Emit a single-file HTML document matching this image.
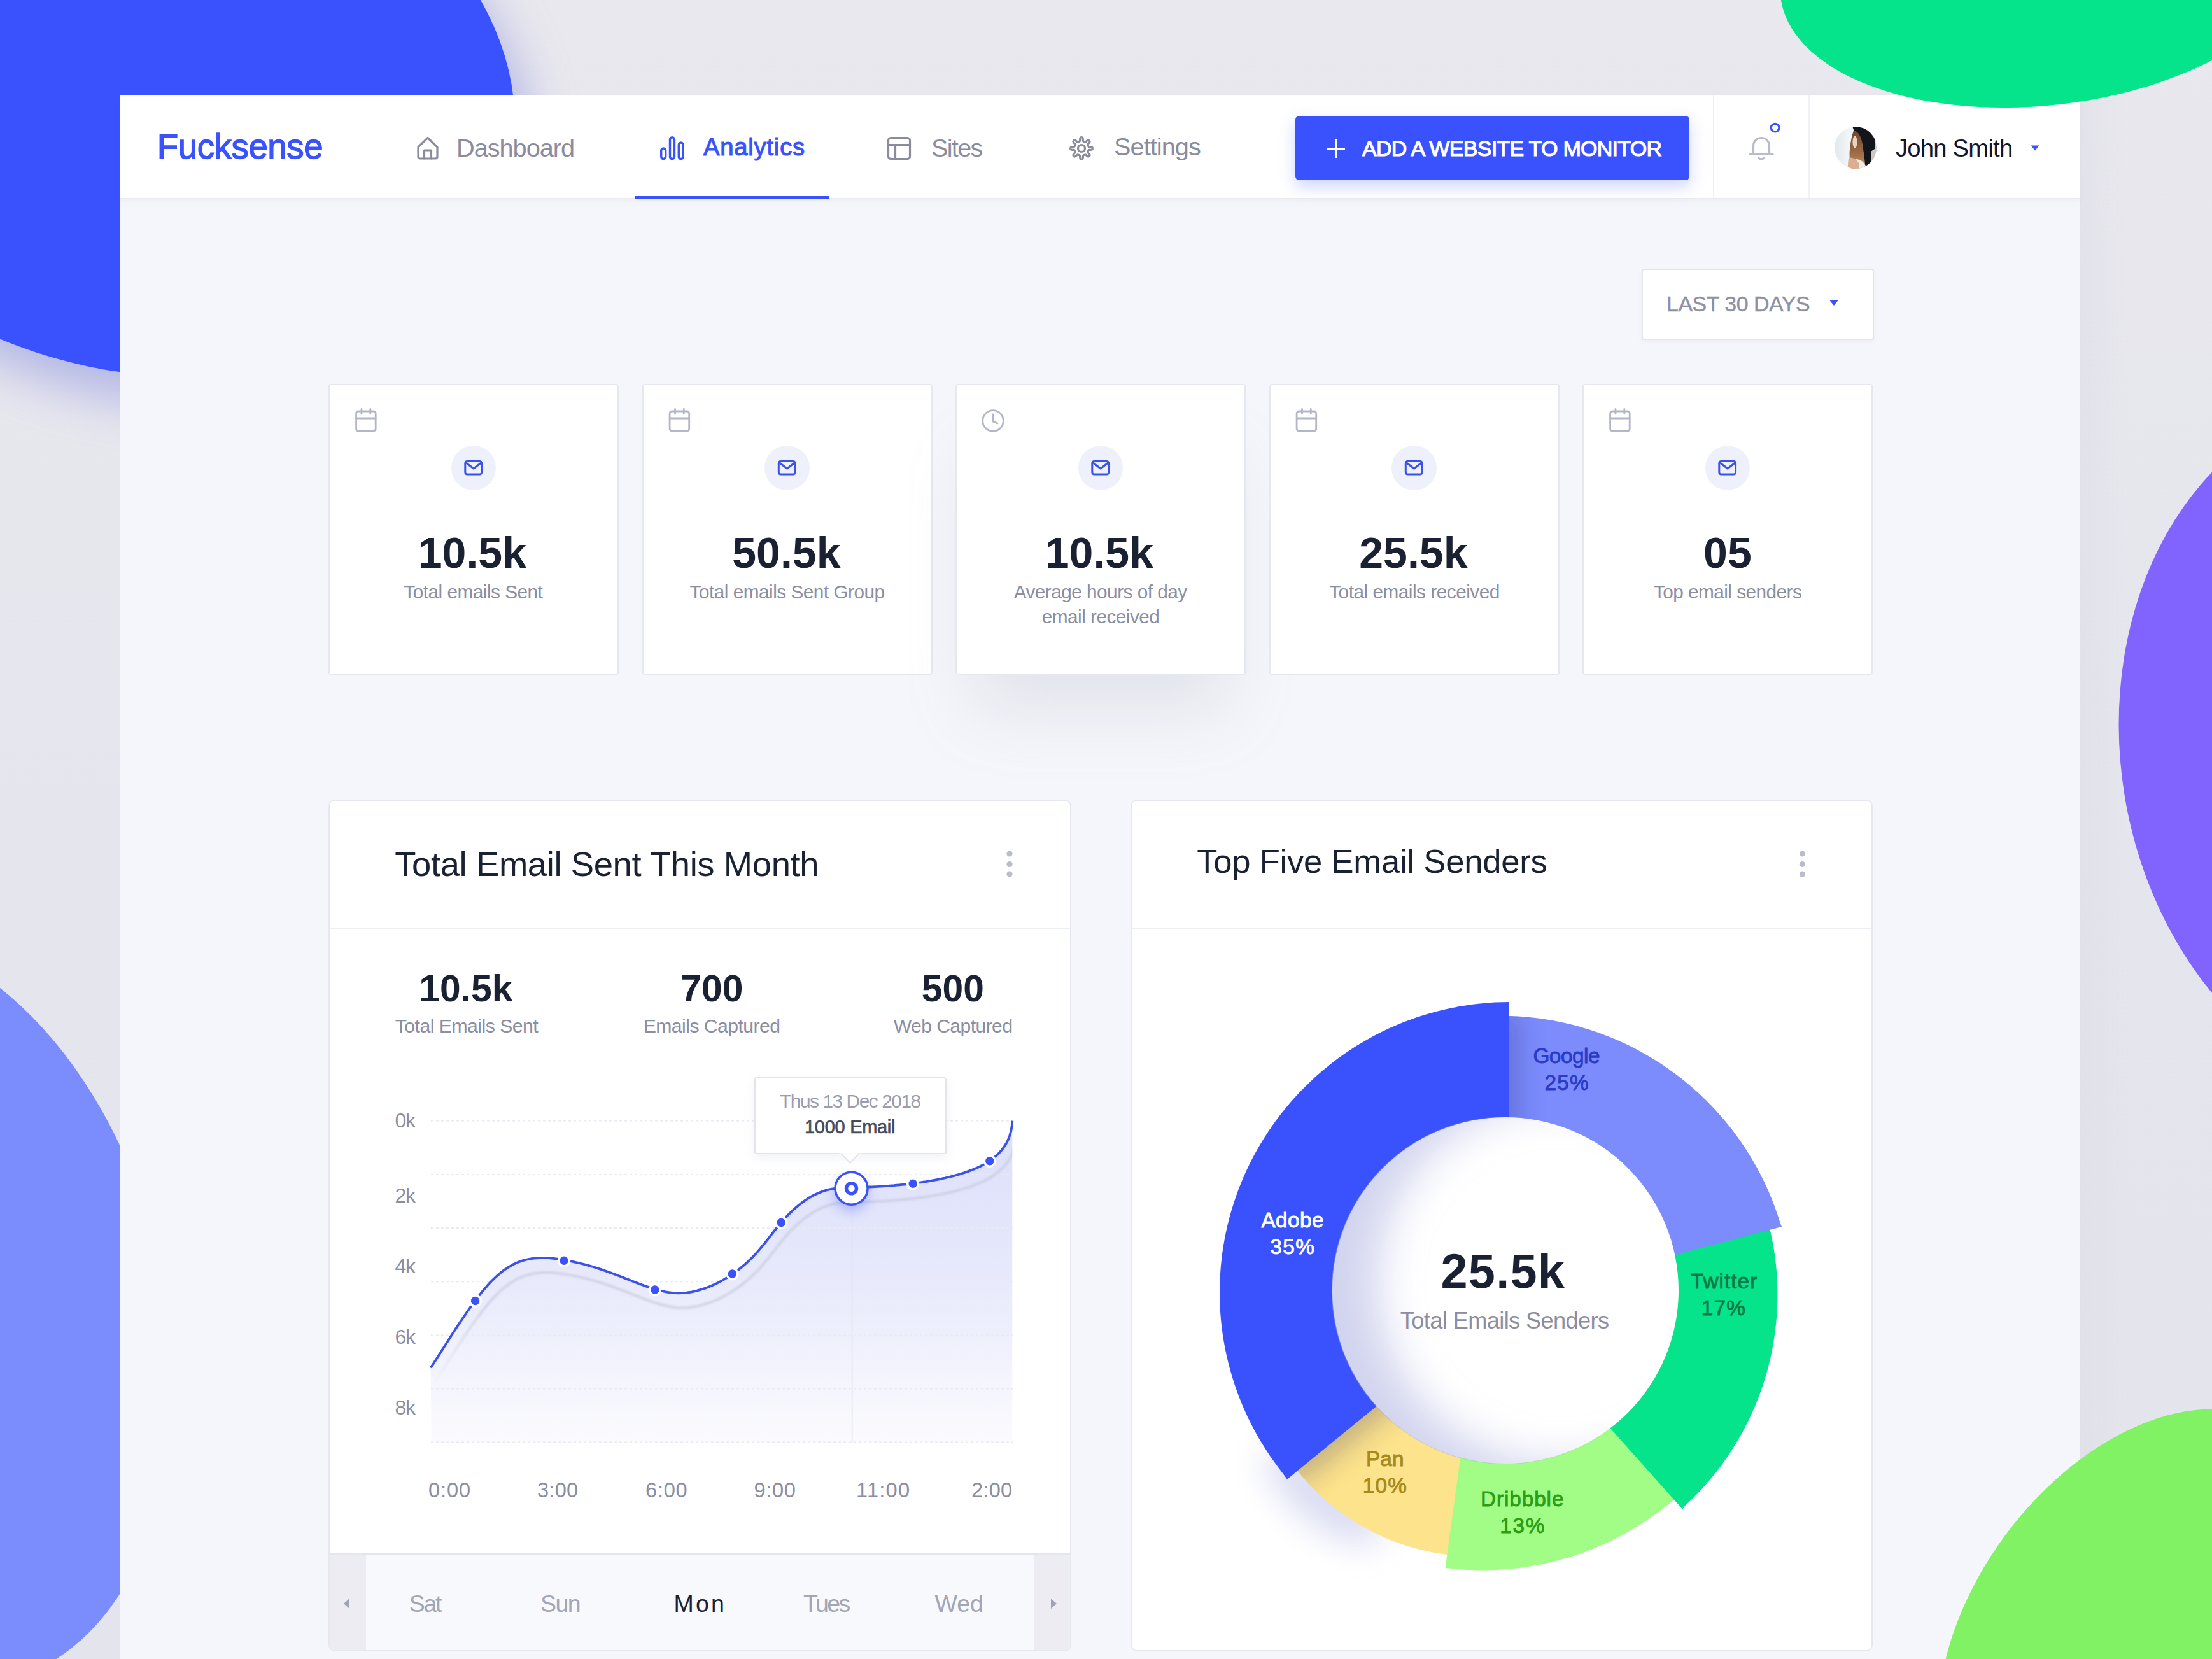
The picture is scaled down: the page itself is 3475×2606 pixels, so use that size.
<!DOCTYPE html><html><head><meta charset="utf-8"><style>
html,body{margin:0;padding:0;}
body{width:3475px;height:2606px;position:relative;overflow:hidden;background:#e8e8ee;font-family:"Liberation Sans",sans-serif;}
.a{position:absolute;}
.t{position:absolute;white-space:nowrap;font-family:"Liberation Sans",sans-serif;}
svg{position:absolute;left:0;top:0;}
</style></head><body>
<svg width="3475" height="2606" viewBox="0 0 3475 2606">
<defs>
 <linearGradient id="bgg" x1="0" y1="0" x2="0" y2="1"><stop offset="0" stop-color="#e9e8ee"/><stop offset="0.5" stop-color="#e5e5ed"/><stop offset="1" stop-color="#e4e4ec"/></linearGradient>
 <filter id="blobsh" x="-50%" y="-50%" width="200%" height="200%"><feGaussianBlur stdDeviation="38"/></filter>
</defs>
<rect width="3475" height="2606" fill="url(#bgg)"/>
<ellipse cx="254.8" cy="187.5" rx="442.6" ry="584.3" transform="rotate(-78.16 254.8 187.5)" fill="#8f96e0" opacity="0.6" filter="url(#blobsh)"/>
<ellipse cx="229.8" cy="142.5" rx="442.6" ry="584.3" transform="rotate(-78.16 229.8 142.5)" fill="#3a52fd"/>
<ellipse cx="-136.9" cy="2058" rx="600.6" ry="394.9" transform="rotate(75.92 -136.9 2058)" fill="#7b8cfd"/>
</svg>
<div class="a" style="left:3268px;top:149px;width:70px;height:2460px;background:linear-gradient(90deg,rgba(215,216,228,0.3),rgba(232,232,238,0))"></div>
<div class="a" style="left:189px;top:149px;width:3079px;height:2500px;background:#f5f6fb"></div>
<div class="a" style="left:189px;top:149px;width:3079px;height:162px;background:#fff;border-bottom:2px solid #eaecf1;box-shadow:0 4px 8px rgba(120,125,150,0.05)"></div>
<div class="a" style="left:997px;top:308px;width:305px;height:5px;background:#3a52fd"></div>
<div class="a" style="left:2691px;top:149px;width:2px;height:162px;background:#f0f1f5"></div>
<div class="a" style="left:2841px;top:149px;width:2px;height:162px;background:#f0f1f5"></div>
<svg width="3475" height="2606" viewBox="0 0 3475 2606" style="pointer-events:none">
<g fill="none" stroke="#8a8c9e" stroke-width="3.2" stroke-linejoin="round" stroke-linecap="round">
 <path d="M657,231 L672,216.5 L687,231 L687,246 Q687,249 684,249 L660,249 Q657,249 657,246 Z"/>
 <path d="M666.5,249 L666.5,236 L677.5,236 L677.5,249"/>
 <rect x="1395.5" y="216.5" width="34" height="33" rx="4"/>
 <path d="M1395.5,227.5 L1429.5,227.5 M1406.5,227.5 L1406.5,249.5"/>
</g>
<g fill="none" stroke="#3a52fd" stroke-width="3.4">
 <rect x="1038.7" y="233" width="7" height="16.5" rx="3.5"/>
 <rect x="1052.5" y="215.7" width="7" height="33.8" rx="3.5"/>
 <rect x="1066.3" y="224" width="7" height="25.5" rx="3.5"/>
</g>
</svg>
<svg width="3475" height="2606" viewBox="0 0 3475 2606">
<g fill="none" stroke="#8a8c9e" stroke-width="3.2" stroke-linejoin="round">
<path d="M1699.00,215.70 L1699.45,215.72 L1699.90,215.79 L1700.34,215.95 L1700.76,216.30 L1701.10,217.05 L1701.31,218.40 L1701.40,220.04 L1701.50,221.22 L1701.69,221.80 L1701.93,222.07 L1702.19,222.22 L1702.47,222.33 L1702.74,222.44 L1703.01,222.54 L1703.29,222.65 L1703.56,222.77 L1703.82,222.89 L1704.09,223.01 L1704.36,223.12 L1704.66,223.20 L1705.02,223.18 L1705.56,222.90 L1706.47,222.14 L1707.69,221.04 L1708.79,220.24 L1709.57,219.95 L1710.11,220.00 L1710.53,220.19 L1710.90,220.46 L1711.23,220.77 L1711.54,221.10 L1711.81,221.47 L1712.00,221.89 L1712.05,222.43 L1711.76,223.21 L1710.96,224.31 L1709.86,225.53 L1709.10,226.44 L1708.82,226.98 L1708.80,227.34 L1708.88,227.64 L1708.99,227.91 L1709.11,228.18 L1709.23,228.44 L1709.35,228.71 L1709.46,228.99 L1709.56,229.26 L1709.67,229.53 L1709.78,229.81 L1709.93,230.07 L1710.20,230.31 L1710.78,230.50 L1711.96,230.60 L1713.60,230.69 L1714.95,230.90 L1715.70,231.24 L1716.05,231.66 L1716.21,232.10 L1716.28,232.55 L1716.30,233.00 L1716.28,233.45 L1716.21,233.90 L1716.05,234.34 L1715.70,234.76 L1714.95,235.10 L1713.60,235.31 L1711.96,235.40 L1710.78,235.50 L1710.20,235.69 L1709.93,235.93 L1709.78,236.19 L1709.67,236.47 L1709.56,236.74 L1709.46,237.01 L1709.35,237.29 L1709.23,237.56 L1709.11,237.82 L1708.99,238.09 L1708.88,238.36 L1708.80,238.66 L1708.82,239.02 L1709.10,239.56 L1709.86,240.47 L1710.96,241.69 L1711.76,242.79 L1712.05,243.57 L1712.00,244.11 L1711.81,244.53 L1711.54,244.90 L1711.23,245.23 L1710.90,245.54 L1710.53,245.81 L1710.11,246.00 L1709.57,246.05 L1708.79,245.76 L1707.69,244.96 L1706.47,243.86 L1705.56,243.10 L1705.02,242.82 L1704.66,242.80 L1704.36,242.88 L1704.09,242.99 L1703.82,243.11 L1703.56,243.23 L1703.29,243.35 L1703.01,243.46 L1702.74,243.56 L1702.47,243.67 L1702.19,243.78 L1701.93,243.93 L1701.69,244.20 L1701.50,244.78 L1701.40,245.96 L1701.31,247.60 L1701.10,248.95 L1700.76,249.70 L1700.34,250.05 L1699.90,250.21 L1699.45,250.28 L1699.00,250.30 L1698.55,250.28 L1698.10,250.21 L1697.66,250.05 L1697.24,249.70 L1696.90,248.95 L1696.69,247.60 L1696.60,245.96 L1696.50,244.78 L1696.31,244.20 L1696.07,243.93 L1695.81,243.78 L1695.53,243.67 L1695.26,243.56 L1694.99,243.46 L1694.71,243.35 L1694.44,243.23 L1694.18,243.11 L1693.91,242.99 L1693.64,242.88 L1693.34,242.80 L1692.98,242.82 L1692.44,243.10 L1691.53,243.86 L1690.31,244.96 L1689.21,245.76 L1688.43,246.05 L1687.89,246.00 L1687.47,245.81 L1687.10,245.54 L1686.77,245.23 L1686.46,244.90 L1686.19,244.53 L1686.00,244.11 L1685.95,243.57 L1686.24,242.79 L1687.04,241.69 L1688.14,240.47 L1688.90,239.56 L1689.18,239.02 L1689.20,238.66 L1689.12,238.36 L1689.01,238.09 L1688.89,237.82 L1688.77,237.56 L1688.65,237.29 L1688.54,237.01 L1688.44,236.74 L1688.33,236.47 L1688.22,236.19 L1688.07,235.93 L1687.80,235.69 L1687.22,235.50 L1686.04,235.40 L1684.40,235.31 L1683.05,235.10 L1682.30,234.76 L1681.95,234.34 L1681.79,233.90 L1681.72,233.45 L1681.70,233.00 L1681.72,232.55 L1681.79,232.10 L1681.95,231.66 L1682.30,231.24 L1683.05,230.90 L1684.40,230.69 L1686.04,230.60 L1687.22,230.50 L1687.80,230.31 L1688.07,230.07 L1688.22,229.81 L1688.33,229.53 L1688.44,229.26 L1688.54,228.99 L1688.65,228.71 L1688.77,228.44 L1688.89,228.18 L1689.01,227.91 L1689.12,227.64 L1689.20,227.34 L1689.18,226.98 L1688.90,226.44 L1688.14,225.53 L1687.04,224.31 L1686.24,223.21 L1685.95,222.43 L1686.00,221.89 L1686.19,221.47 L1686.46,221.10 L1686.77,220.77 L1687.10,220.46 L1687.47,220.19 L1687.89,220.00 L1688.43,219.95 L1689.21,220.24 L1690.31,221.04 L1691.53,222.14 L1692.44,222.90 L1692.98,223.18 L1693.34,223.20 L1693.64,223.12 L1693.91,223.01 L1694.18,222.89 L1694.44,222.77 L1694.71,222.65 L1694.99,222.54 L1695.26,222.44 L1695.53,222.33 L1695.81,222.22 L1696.07,222.07 L1696.31,221.80 L1696.50,221.22 L1696.60,220.04 L1696.69,218.40 L1696.90,217.05 L1697.24,216.30 L1697.66,215.95 L1698.10,215.79 L1698.55,215.72Z"/>
<circle cx="1699" cy="233" r="5.5"/>
</g></svg>
<div class="a" style="left:2035px;top:182px;width:619px;height:101px;background:#3a52fd;border-radius:6px;box-shadow:0 10px 24px rgba(58,82,253,0.25)"></div>
<div class="a" style="left:2084px;top:231.5px;width:29px;height:3px;background:#fff"></div>
<div class="a" style="left:2097px;top:218.5px;width:3px;height:29px;background:#fff"></div>
<svg width="3475" height="2606" viewBox="0 0 3475 2606">
<g fill="none" stroke="#b8bbca" stroke-width="3.2" stroke-linecap="round" stroke-linejoin="round">
<path d="M2754.5,241 L2754.5,229 A12.5,12.5 0 0 1 2779.5,229 L2779.5,241"/>
<path d="M2749,242.5 L2785,242.5"/>
<path d="M2762.5,248 Q2767,252 2771.5,248"/>
</g>
<circle cx="2788.6" cy="200.6" r="6.3" fill="none" stroke="#3a52fd" stroke-width="3.2"/>
</svg>
<svg width="3475" height="2606" viewBox="0 0 3475 2606">
<defs><clipPath id="avc"><circle cx="2915" cy="232" r="33"/></clipPath>
<linearGradient id="avbg" x1="0" y1="0" x2="1" y2="0"><stop offset="0" stop-color="#dfe6ea"/><stop offset="0.35" stop-color="#f3f6f8"/><stop offset="0.7" stop-color="#eceeee"/><stop offset="1" stop-color="#c9cccc"/></linearGradient>
<linearGradient id="hair" x1="0" y1="0" x2="0" y2="1"><stop offset="0" stop-color="#6b4630"/><stop offset="0.6" stop-color="#a4704a"/><stop offset="1" stop-color="#d2a173"/></linearGradient></defs>
<g clip-path="url(#avc)">
<rect x="2880" y="197" width="70" height="70" fill="url(#avbg)"/>
<path d="M2932,238 L2950,236 L2950,270 L2930,270 Z" fill="#cfc8c2"/>
<path d="M2910,198 Q2936,193 2947,213 L2945,234 L2939,238 Q2941,252 2937,264 L2930,268 Q2928,242 2925,224 Q2920,210 2913,207 Z" fill="#12161b"/>
<path d="M2912,205 Q2921,206 2925,222 Q2929,244 2931,268 L2910,270 Q2904,252 2906,234 Q2908,216 2912,205Z" fill="url(#hair)"/>
<ellipse cx="2914" cy="223" rx="3.6" ry="9.5" fill="#ecd0bb"/>
<path d="M2916,250 Q2926,250 2932,262 L2930,270 L2914,270 Z" fill="#eeeae6"/>
<path d="M2904,248 Q2914,246 2920,256 Q2922,264 2918,270 L2902,270 Z" fill="#d9ae92"/>
</g></svg>
<svg width="3475" height="2606" viewBox="0 0 3475 2606"><path d="M3190.5,228.5 L3203.5,228.5 L3197,236.5 Z" fill="#3a52fd"/></svg>
<div class="a" style="left:2579px;top:421.5px;background:#fff;border:2px solid #e3e5ee;border-radius:4px;box-sizing:border-box;width:364.5px;height:112px;box-shadow:0 3px 6px rgba(140,145,170,0.08)"></div>
<svg width="3475" height="2606" viewBox="0 0 3475 2606"><path d="M2874.5,472 L2887.5,472 L2881,480 Z" fill="#3a52fd"/></svg>
<div class="a" style="left:516px;top:603px;width:456px;height:457px;background:#fff;border:2px solid #e6e8f0;border-radius:4px;box-sizing:border-box;"></div>
<div class="a" style="left:1008.5px;top:603px;width:456px;height:457px;background:#fff;border:2px solid #e6e8f0;border-radius:4px;box-sizing:border-box;"></div>
<div class="a" style="left:1501px;top:603px;width:456px;height:457px;background:#fff;border:2px solid #e6e8f0;border-radius:4px;box-sizing:border-box;box-shadow:0 85px 100px -30px rgba(160,162,180,0.22);"></div>
<div class="a" style="left:1993.5px;top:603px;width:456px;height:457px;background:#fff;border:2px solid #e6e8f0;border-radius:4px;box-sizing:border-box;"></div>
<div class="a" style="left:2486px;top:603px;width:456px;height:457px;background:#fff;border:2px solid #e6e8f0;border-radius:4px;box-sizing:border-box;"></div>
<div class="a" style="left:708.7px;top:699.7px;width:70.6px;height:70.6px;border-radius:50%;background:#eef1fc"></div>
<div class="a" style="left:1201.2px;top:699.7px;width:70.6px;height:70.6px;border-radius:50%;background:#eef1fc"></div>
<div class="a" style="left:1693.7px;top:699.7px;width:70.6px;height:70.6px;border-radius:50%;background:#eef1fc"></div>
<div class="a" style="left:2186.2px;top:699.7px;width:70.6px;height:70.6px;border-radius:50%;background:#eef1fc"></div>
<div class="a" style="left:2678.7px;top:699.7px;width:70.6px;height:70.6px;border-radius:50%;background:#eef1fc"></div>
<svg width="3475" height="2606" viewBox="0 0 3475 2606">
<g fill="none" stroke="#3a52e8" stroke-width="3" stroke-linejoin="round"><rect x="730.8" y="724.5" width="25.8" height="20.5" rx="3"/><path d="M731,726 L744,736 L757,726"/></g>
<g fill="none" stroke="#b3b6c6" stroke-width="2.8" stroke-linecap="round"><rect x="559.6" y="646" width="30.6" height="31" rx="3.5"/><path d="M559.6,657 L590.2,657 M568,642.5 L568,650 M581.8,642.5 L581.8,650"/></g>
<g fill="none" stroke="#3a52e8" stroke-width="3" stroke-linejoin="round"><rect x="1223.3" y="724.5" width="25.8" height="20.5" rx="3"/><path d="M1223.5,726 L1236.5,736 L1249.5,726"/></g>
<g fill="none" stroke="#b3b6c6" stroke-width="2.8" stroke-linecap="round"><rect x="1052.1" y="646" width="30.6" height="31" rx="3.5"/><path d="M1052.1,657 L1082.7,657 M1060.5,642.5 L1060.5,650 M1074.3,642.5 L1074.3,650"/></g>
<g fill="none" stroke="#3a52e8" stroke-width="3" stroke-linejoin="round"><rect x="1715.8" y="724.5" width="25.8" height="20.5" rx="3"/><path d="M1716,726 L1729,736 L1742,726"/></g>
<g fill="none" stroke="#b3b6c6" stroke-width="2.8" stroke-linecap="round"><circle cx="1560" cy="661" r="16.3"/><path d="M1560,651 L1560,662 L1567,665"/></g>
<g fill="none" stroke="#3a52e8" stroke-width="3" stroke-linejoin="round"><rect x="2208.3" y="724.5" width="25.8" height="20.5" rx="3"/><path d="M2208.5,726 L2221.5,736 L2234.5,726"/></g>
<g fill="none" stroke="#b3b6c6" stroke-width="2.8" stroke-linecap="round"><rect x="2037.1" y="646" width="30.6" height="31" rx="3.5"/><path d="M2037.1,657 L2067.7,657 M2045.5,642.5 L2045.5,650 M2059.3,642.5 L2059.3,650"/></g>
<g fill="none" stroke="#3a52e8" stroke-width="3" stroke-linejoin="round"><rect x="2700.8" y="724.5" width="25.8" height="20.5" rx="3"/><path d="M2701,726 L2714,736 L2727,726"/></g>
<g fill="none" stroke="#b3b6c6" stroke-width="2.8" stroke-linecap="round"><rect x="2529.6" y="646" width="30.6" height="31" rx="3.5"/><path d="M2529.6,657 L2560.2,657 M2538,642.5 L2538,650 M2551.8,642.5 L2551.8,650"/></g>
</svg>
<div class="a" style="left:516px;top:1256px;width:1167px;height:1338px;background:#fff;border:2px solid #e6e8f0;border-radius:10px;box-sizing:border-box;overflow:hidden"><div class="a" style="left:0;top:200px;width:100%;height:2px;background:#eceef3"></div><div class="a" style="left:0;top:1182px;width:100%;height:160px;background:#f8f9fd;border-top:2px solid #e4e6ef"></div><div class="a" style="left:0;top:1184px;width:57px;height:160px;background:#ececf2"></div><div class="a" style="left:1107px;top:1184px;width:60px;height:160px;background:#ececf2"></div></div>
<svg width="3475" height="2606" viewBox="0 0 3475 2606"><g fill="#b9bcc9"><circle cx="1586" cy="1341" r="4.6"/><circle cx="1586" cy="1357.5" r="4.6"/><circle cx="1586" cy="1373" r="4.6"/></g><path d="M549,2511 L549,2527 L540,2519 Z" fill="#a0a3b3"/><path d="M1651,2511 L1651,2527 L1660,2519 Z" fill="#a0a3b3"/></svg>
<svg width="3475" height="2606" viewBox="0 0 3475 2606">
<defs>
<linearGradient id="areag" x1="0" y1="1760" x2="0" y2="2266" gradientUnits="userSpaceOnUse"><stop offset="0" stop-color="#dcdffb"/><stop offset="0.45" stop-color="#e6e8fb"/><stop offset="1" stop-color="#fbfbfe"/></linearGradient>
<filter id="lsh" x="-10%" y="-10%" width="120%" height="130%"><feGaussianBlur stdDeviation="1.8"/></filter>
<filter id="dsh" x="-100%" y="-100%" width="300%" height="300%"><feGaussianBlur stdDeviation="10"/></filter>
<clipPath id="areaclip"><path d="M676.7,2148.5 L679.1,2144.8 L681.5,2141.2 L683.8,2137.6 L686.1,2134.0 L688.5,2130.3 L690.8,2126.7 L693.1,2123.1 L695.3,2119.5 L697.6,2115.9 L699.9,2112.3 L702.2,2108.8 L704.5,2105.2 L706.8,2101.6 L709.0,2098.1 L711.3,2094.5 L713.6,2090.9 L715.9,2087.4 L718.3,2083.8 L720.6,2080.3 L722.9,2076.8 L725.3,2073.3 L727.7,2069.7 L730.1,2066.2 L732.5,2062.7 L734.9,2059.2 L737.4,2055.7 L739.9,2052.2 L742.4,2048.7 L745.0,2045.2 L747.6,2041.8 L750.2,2038.3 L752.9,2034.8 L755.6,2031.4 L758.3,2028.0 L761.1,2024.7 L764.0,2021.4 L766.9,2018.1 L769.8,2014.9 L772.8,2011.8 L775.8,2008.8 L779.0,2005.8 L782.1,2003.0 L785.4,2000.2 L788.7,1997.6 L792.0,1995.1 L795.5,1992.7 L799.0,1990.4 L802.6,1988.3 L806.2,1986.3 L810.0,1984.5 L813.8,1982.8 L817.7,1981.4 L821.7,1980.1 L825.8,1979.0 L830.0,1978.0 L834.2,1977.3 L838.5,1976.7 L842.8,1976.3 L847.2,1976.0 L851.6,1975.9 L856.0,1976.0 L860.3,1976.1 L864.7,1976.4 L869.1,1976.8 L873.4,1977.3 L877.7,1977.9 L881.9,1978.6 L886.2,1979.3 L890.4,1980.1 L894.6,1980.9 L898.8,1981.7 L902.9,1982.6 L907.1,1983.5 L911.2,1984.5 L915.4,1985.5 L919.5,1986.6 L923.5,1987.7 L927.6,1988.9 L931.7,1990.0 L935.7,1991.3 L939.8,1992.6 L943.8,1993.9 L947.8,1995.3 L951.8,1996.7 L955.8,1998.1 L959.8,1999.6 L963.8,2001.0 L967.8,2002.5 L971.8,2004.1 L975.7,2005.6 L979.7,2007.1 L983.7,2008.7 L987.7,2010.3 L991.7,2011.8 L995.8,2013.4 L999.8,2014.9 L1003.8,2016.5 L1007.9,2018.0 L1011.9,2019.5 L1016.0,2021.0 L1020.1,2022.4 L1024.2,2023.7 L1028.3,2025.0 L1032.4,2026.2 L1036.6,2027.2 L1040.7,2028.2 L1044.9,2029.1 L1049.0,2029.8 L1053.2,2030.4 L1057.4,2030.9 L1061.6,2031.2 L1065.8,2031.3 L1070.1,2031.2 L1074.3,2031.0 L1078.6,2030.6 L1082.8,2030.0 L1087.0,2029.3 L1091.2,2028.4 L1095.4,2027.4 L1099.6,2026.2 L1103.7,2025.0 L1107.9,2023.6 L1111.9,2022.1 L1115.9,2020.5 L1119.9,2018.8 L1123.8,2017.0 L1127.7,2015.1 L1131.5,2013.1 L1135.3,2011.1 L1139.0,2008.9 L1142.7,2006.7 L1146.3,2004.4 L1149.9,2002.0 L1153.4,1999.5 L1156.9,1997.0 L1160.3,1994.4 L1163.6,1991.7 L1166.9,1989.0 L1170.2,1986.2 L1173.4,1983.3 L1176.5,1980.4 L1179.6,1977.4 L1182.6,1974.4 L1185.6,1971.3 L1188.5,1968.2 L1191.3,1965.0 L1194.1,1961.8 L1196.8,1958.5 L1199.5,1955.2 L1202.2,1951.9 L1204.8,1948.6 L1207.4,1945.3 L1210.0,1941.9 L1212.6,1938.6 L1215.2,1935.2 L1217.9,1931.8 L1220.5,1928.5 L1223.3,1925.2 L1226.0,1921.9 L1228.8,1918.6 L1231.7,1915.4 L1234.6,1912.2 L1237.6,1909.0 L1240.7,1905.9 L1243.8,1902.9 L1247.0,1899.9 L1250.2,1897.0 L1253.5,1894.2 L1256.9,1891.5 L1260.3,1888.9 L1263.8,1886.4 L1267.3,1884.0 L1270.9,1881.7 L1274.6,1879.5 L1278.3,1877.5 L1282.0,1875.7 L1285.9,1873.9 L1289.8,1872.4 L1293.7,1871.0 L1297.7,1869.7 L1301.8,1868.7 L1305.9,1867.8 L1310.1,1867.1 L1314.3,1866.6 L1318.5,1866.2 L1322.8,1865.9 L1327.1,1865.7 L1331.5,1865.6 L1335.8,1865.5 L1340.1,1865.4 L1344.4,1865.3 L1348.7,1865.2 L1353.0,1865.0 L1357.3,1864.9 L1361.6,1864.7 L1365.9,1864.5 L1370.2,1864.3 L1374.5,1864.1 L1378.8,1863.9 L1383.0,1863.6 L1387.3,1863.4 L1391.6,1863.1 L1395.8,1862.8 L1400.1,1862.4 L1404.4,1862.1 L1408.6,1861.7 L1412.9,1861.3 L1417.1,1860.9 L1421.3,1860.5 L1425.5,1860.0 L1429.7,1859.5 L1434.0,1859.0 L1438.2,1858.5 L1442.3,1857.9 L1446.5,1857.3 L1450.7,1856.7 L1454.9,1856.1 L1459.1,1855.4 L1463.2,1854.7 L1467.4,1853.9 L1471.6,1853.1 L1475.8,1852.3 L1480.0,1851.4 L1484.2,1850.5 L1488.4,1849.5 L1492.6,1848.5 L1496.9,1847.4 L1501.1,1846.3 L1505.4,1845.1 L1509.6,1843.8 L1513.8,1842.5 L1518.0,1841.1 L1522.1,1839.6 L1526.2,1838.1 L1530.3,1836.4 L1534.3,1834.7 L1538.2,1832.9 L1542.1,1831.0 L1545.8,1828.9 L1549.5,1826.8 L1553.1,1824.6 L1556.5,1822.2 L1559.9,1819.7 L1563.1,1817.1 L1566.2,1814.4 L1569.1,1811.6 L1571.9,1808.6 L1574.5,1805.4 L1576.9,1802.2 L1579.2,1798.8 L1581.3,1795.2 L1583.2,1791.5 L1584.9,1787.6 L1586.3,1783.5 L1587.6,1779.3 L1588.6,1774.9 L1589.4,1770.4 L1590.0,1765.6 L1590.3,1760.7 L1590.2,2266 L677.6,2266 Z"/></clipPath>
<linearGradient id="shm" x1="680" y1="0" x2="760" y2="0" gradientUnits="userSpaceOnUse"><stop offset="0" stop-color="#000"/><stop offset="1" stop-color="#fff"/></linearGradient>
<mask id="shmask" maskUnits="userSpaceOnUse" x="600" y="1700" width="1100" height="600"><rect x="600" y="1700" width="1100" height="600" fill="url(#shm)"/></mask>
</defs>
<path d="M676.7,2148.5 L679.1,2144.8 L681.5,2141.2 L683.8,2137.6 L686.1,2134.0 L688.5,2130.3 L690.8,2126.7 L693.1,2123.1 L695.3,2119.5 L697.6,2115.9 L699.9,2112.3 L702.2,2108.8 L704.5,2105.2 L706.8,2101.6 L709.0,2098.1 L711.3,2094.5 L713.6,2090.9 L715.9,2087.4 L718.3,2083.8 L720.6,2080.3 L722.9,2076.8 L725.3,2073.3 L727.7,2069.7 L730.1,2066.2 L732.5,2062.7 L734.9,2059.2 L737.4,2055.7 L739.9,2052.2 L742.4,2048.7 L745.0,2045.2 L747.6,2041.8 L750.2,2038.3 L752.9,2034.8 L755.6,2031.4 L758.3,2028.0 L761.1,2024.7 L764.0,2021.4 L766.9,2018.1 L769.8,2014.9 L772.8,2011.8 L775.8,2008.8 L779.0,2005.8 L782.1,2003.0 L785.4,2000.2 L788.7,1997.6 L792.0,1995.1 L795.5,1992.7 L799.0,1990.4 L802.6,1988.3 L806.2,1986.3 L810.0,1984.5 L813.8,1982.8 L817.7,1981.4 L821.7,1980.1 L825.8,1979.0 L830.0,1978.0 L834.2,1977.3 L838.5,1976.7 L842.8,1976.3 L847.2,1976.0 L851.6,1975.9 L856.0,1976.0 L860.3,1976.1 L864.7,1976.4 L869.1,1976.8 L873.4,1977.3 L877.7,1977.9 L881.9,1978.6 L886.2,1979.3 L890.4,1980.1 L894.6,1980.9 L898.8,1981.7 L902.9,1982.6 L907.1,1983.5 L911.2,1984.5 L915.4,1985.5 L919.5,1986.6 L923.5,1987.7 L927.6,1988.9 L931.7,1990.0 L935.7,1991.3 L939.8,1992.6 L943.8,1993.9 L947.8,1995.3 L951.8,1996.7 L955.8,1998.1 L959.8,1999.6 L963.8,2001.0 L967.8,2002.5 L971.8,2004.1 L975.7,2005.6 L979.7,2007.1 L983.7,2008.7 L987.7,2010.3 L991.7,2011.8 L995.8,2013.4 L999.8,2014.9 L1003.8,2016.5 L1007.9,2018.0 L1011.9,2019.5 L1016.0,2021.0 L1020.1,2022.4 L1024.2,2023.7 L1028.3,2025.0 L1032.4,2026.2 L1036.6,2027.2 L1040.7,2028.2 L1044.9,2029.1 L1049.0,2029.8 L1053.2,2030.4 L1057.4,2030.9 L1061.6,2031.2 L1065.8,2031.3 L1070.1,2031.2 L1074.3,2031.0 L1078.6,2030.6 L1082.8,2030.0 L1087.0,2029.3 L1091.2,2028.4 L1095.4,2027.4 L1099.6,2026.2 L1103.7,2025.0 L1107.9,2023.6 L1111.9,2022.1 L1115.9,2020.5 L1119.9,2018.8 L1123.8,2017.0 L1127.7,2015.1 L1131.5,2013.1 L1135.3,2011.1 L1139.0,2008.9 L1142.7,2006.7 L1146.3,2004.4 L1149.9,2002.0 L1153.4,1999.5 L1156.9,1997.0 L1160.3,1994.4 L1163.6,1991.7 L1166.9,1989.0 L1170.2,1986.2 L1173.4,1983.3 L1176.5,1980.4 L1179.6,1977.4 L1182.6,1974.4 L1185.6,1971.3 L1188.5,1968.2 L1191.3,1965.0 L1194.1,1961.8 L1196.8,1958.5 L1199.5,1955.2 L1202.2,1951.9 L1204.8,1948.6 L1207.4,1945.3 L1210.0,1941.9 L1212.6,1938.6 L1215.2,1935.2 L1217.9,1931.8 L1220.5,1928.5 L1223.3,1925.2 L1226.0,1921.9 L1228.8,1918.6 L1231.7,1915.4 L1234.6,1912.2 L1237.6,1909.0 L1240.7,1905.9 L1243.8,1902.9 L1247.0,1899.9 L1250.2,1897.0 L1253.5,1894.2 L1256.9,1891.5 L1260.3,1888.9 L1263.8,1886.4 L1267.3,1884.0 L1270.9,1881.7 L1274.6,1879.5 L1278.3,1877.5 L1282.0,1875.7 L1285.9,1873.9 L1289.8,1872.4 L1293.7,1871.0 L1297.7,1869.7 L1301.8,1868.7 L1305.9,1867.8 L1310.1,1867.1 L1314.3,1866.6 L1318.5,1866.2 L1322.8,1865.9 L1327.1,1865.7 L1331.5,1865.6 L1335.8,1865.5 L1340.1,1865.4 L1344.4,1865.3 L1348.7,1865.2 L1353.0,1865.0 L1357.3,1864.9 L1361.6,1864.7 L1365.9,1864.5 L1370.2,1864.3 L1374.5,1864.1 L1378.8,1863.9 L1383.0,1863.6 L1387.3,1863.4 L1391.6,1863.1 L1395.8,1862.8 L1400.1,1862.4 L1404.4,1862.1 L1408.6,1861.7 L1412.9,1861.3 L1417.1,1860.9 L1421.3,1860.5 L1425.5,1860.0 L1429.7,1859.5 L1434.0,1859.0 L1438.2,1858.5 L1442.3,1857.9 L1446.5,1857.3 L1450.7,1856.7 L1454.9,1856.1 L1459.1,1855.4 L1463.2,1854.7 L1467.4,1853.9 L1471.6,1853.1 L1475.8,1852.3 L1480.0,1851.4 L1484.2,1850.5 L1488.4,1849.5 L1492.6,1848.5 L1496.9,1847.4 L1501.1,1846.3 L1505.4,1845.1 L1509.6,1843.8 L1513.8,1842.5 L1518.0,1841.1 L1522.1,1839.6 L1526.2,1838.1 L1530.3,1836.4 L1534.3,1834.7 L1538.2,1832.9 L1542.1,1831.0 L1545.8,1828.9 L1549.5,1826.8 L1553.1,1824.6 L1556.5,1822.2 L1559.9,1819.7 L1563.1,1817.1 L1566.2,1814.4 L1569.1,1811.6 L1571.9,1808.6 L1574.5,1805.4 L1576.9,1802.2 L1579.2,1798.8 L1581.3,1795.2 L1583.2,1791.5 L1584.9,1787.6 L1586.3,1783.5 L1587.6,1779.3 L1588.6,1774.9 L1589.4,1770.4 L1590.0,1765.6 L1590.3,1760.7 L1590.2,2266 L677.6,2266 Z" fill="url(#areag)"/>
<g stroke="#e9eaf2" stroke-width="2" stroke-dasharray="4,4"><line x1="677" y1="1760.5" x2="1592" y2="1760.5"/><line x1="677" y1="1845" x2="1592" y2="1845"/><line x1="677" y1="1929" x2="1592" y2="1929"/><line x1="677" y1="2013.3" x2="1592" y2="2013.3"/><line x1="677" y1="2097.5" x2="1592" y2="2097.5"/><line x1="677" y1="2181.5" x2="1592" y2="2181.5"/><line x1="677" y1="2265.5" x2="1592" y2="2265.5"/></g>
<g clip-path="url(#areaclip)" mask="url(#shmask)"><path d="M676.7,2148.5 L679.1,2144.8 L681.5,2141.2 L683.8,2137.6 L686.1,2134.0 L688.5,2130.3 L690.8,2126.7 L693.1,2123.1 L695.3,2119.5 L697.6,2115.9 L699.9,2112.3 L702.2,2108.8 L704.5,2105.2 L706.8,2101.6 L709.0,2098.1 L711.3,2094.5 L713.6,2090.9 L715.9,2087.4 L718.3,2083.8 L720.6,2080.3 L722.9,2076.8 L725.3,2073.3 L727.7,2069.7 L730.1,2066.2 L732.5,2062.7 L734.9,2059.2 L737.4,2055.7 L739.9,2052.2 L742.4,2048.7 L745.0,2045.2 L747.6,2041.8 L750.2,2038.3 L752.9,2034.8 L755.6,2031.4 L758.3,2028.0 L761.1,2024.7 L764.0,2021.4 L766.9,2018.1 L769.8,2014.9 L772.8,2011.8 L775.8,2008.8 L779.0,2005.8 L782.1,2003.0 L785.4,2000.2 L788.7,1997.6 L792.0,1995.1 L795.5,1992.7 L799.0,1990.4 L802.6,1988.3 L806.2,1986.3 L810.0,1984.5 L813.8,1982.8 L817.7,1981.4 L821.7,1980.1 L825.8,1979.0 L830.0,1978.0 L834.2,1977.3 L838.5,1976.7 L842.8,1976.3 L847.2,1976.0 L851.6,1975.9 L856.0,1976.0 L860.3,1976.1 L864.7,1976.4 L869.1,1976.8 L873.4,1977.3 L877.7,1977.9 L881.9,1978.6 L886.2,1979.3 L890.4,1980.1 L894.6,1980.9 L898.8,1981.7 L902.9,1982.6 L907.1,1983.5 L911.2,1984.5 L915.4,1985.5 L919.5,1986.6 L923.5,1987.7 L927.6,1988.9 L931.7,1990.0 L935.7,1991.3 L939.8,1992.6 L943.8,1993.9 L947.8,1995.3 L951.8,1996.7 L955.8,1998.1 L959.8,1999.6 L963.8,2001.0 L967.8,2002.5 L971.8,2004.1 L975.7,2005.6 L979.7,2007.1 L983.7,2008.7 L987.7,2010.3 L991.7,2011.8 L995.8,2013.4 L999.8,2014.9 L1003.8,2016.5 L1007.9,2018.0 L1011.9,2019.5 L1016.0,2021.0 L1020.1,2022.4 L1024.2,2023.7 L1028.3,2025.0 L1032.4,2026.2 L1036.6,2027.2 L1040.7,2028.2 L1044.9,2029.1 L1049.0,2029.8 L1053.2,2030.4 L1057.4,2030.9 L1061.6,2031.2 L1065.8,2031.3 L1070.1,2031.2 L1074.3,2031.0 L1078.6,2030.6 L1082.8,2030.0 L1087.0,2029.3 L1091.2,2028.4 L1095.4,2027.4 L1099.6,2026.2 L1103.7,2025.0 L1107.9,2023.6 L1111.9,2022.1 L1115.9,2020.5 L1119.9,2018.8 L1123.8,2017.0 L1127.7,2015.1 L1131.5,2013.1 L1135.3,2011.1 L1139.0,2008.9 L1142.7,2006.7 L1146.3,2004.4 L1149.9,2002.0 L1153.4,1999.5 L1156.9,1997.0 L1160.3,1994.4 L1163.6,1991.7 L1166.9,1989.0 L1170.2,1986.2 L1173.4,1983.3 L1176.5,1980.4 L1179.6,1977.4 L1182.6,1974.4 L1185.6,1971.3 L1188.5,1968.2 L1191.3,1965.0 L1194.1,1961.8 L1196.8,1958.5 L1199.5,1955.2 L1202.2,1951.9 L1204.8,1948.6 L1207.4,1945.3 L1210.0,1941.9 L1212.6,1938.6 L1215.2,1935.2 L1217.9,1931.8 L1220.5,1928.5 L1223.3,1925.2 L1226.0,1921.9 L1228.8,1918.6 L1231.7,1915.4 L1234.6,1912.2 L1237.6,1909.0 L1240.7,1905.9 L1243.8,1902.9 L1247.0,1899.9 L1250.2,1897.0 L1253.5,1894.2 L1256.9,1891.5 L1260.3,1888.9 L1263.8,1886.4 L1267.3,1884.0 L1270.9,1881.7 L1274.6,1879.5 L1278.3,1877.5 L1282.0,1875.7 L1285.9,1873.9 L1289.8,1872.4 L1293.7,1871.0 L1297.7,1869.7 L1301.8,1868.7 L1305.9,1867.8 L1310.1,1867.1 L1314.3,1866.6 L1318.5,1866.2 L1322.8,1865.9 L1327.1,1865.7 L1331.5,1865.6 L1335.8,1865.5 L1340.1,1865.4 L1344.4,1865.3 L1348.7,1865.2 L1353.0,1865.0 L1357.3,1864.9 L1361.6,1864.7 L1365.9,1864.5 L1370.2,1864.3 L1374.5,1864.1 L1378.8,1863.9 L1383.0,1863.6 L1387.3,1863.4 L1391.6,1863.1 L1395.8,1862.8 L1400.1,1862.4 L1404.4,1862.1 L1408.6,1861.7 L1412.9,1861.3 L1417.1,1860.9 L1421.3,1860.5 L1425.5,1860.0 L1429.7,1859.5 L1434.0,1859.0 L1438.2,1858.5 L1442.3,1857.9 L1446.5,1857.3 L1450.7,1856.7 L1454.9,1856.1 L1459.1,1855.4 L1463.2,1854.7 L1467.4,1853.9 L1471.6,1853.1 L1475.8,1852.3 L1480.0,1851.4 L1484.2,1850.5 L1488.4,1849.5 L1492.6,1848.5 L1496.9,1847.4 L1501.1,1846.3 L1505.4,1845.1 L1509.6,1843.8 L1513.8,1842.5 L1518.0,1841.1 L1522.1,1839.6 L1526.2,1838.1 L1530.3,1836.4 L1534.3,1834.7 L1538.2,1832.9 L1542.1,1831.0 L1545.8,1828.9 L1549.5,1826.8 L1553.1,1824.6 L1556.5,1822.2 L1559.9,1819.7 L1563.1,1817.1 L1566.2,1814.4 L1569.1,1811.6 L1571.9,1808.6 L1574.5,1805.4 L1576.9,1802.2 L1579.2,1798.8 L1581.3,1795.2 L1583.2,1791.5 L1584.9,1787.6 L1586.3,1783.5 L1587.6,1779.3 L1588.6,1774.9 L1589.4,1770.4 L1590.0,1765.6 L1590.3,1760.7" fill="none" stroke="#c3c4d8" stroke-width="4" opacity="0.6" transform="translate(6,23)" filter="url(#lsh)"/></g>
<line x1="1338.6" y1="1866" x2="1338.6" y2="2266" stroke="#dcdee8" stroke-width="1.5"/>
<path d="M676.7,2148.5 L679.1,2144.8 L681.5,2141.2 L683.8,2137.6 L686.1,2134.0 L688.5,2130.3 L690.8,2126.7 L693.1,2123.1 L695.3,2119.5 L697.6,2115.9 L699.9,2112.3 L702.2,2108.8 L704.5,2105.2 L706.8,2101.6 L709.0,2098.1 L711.3,2094.5 L713.6,2090.9 L715.9,2087.4 L718.3,2083.8 L720.6,2080.3 L722.9,2076.8 L725.3,2073.3 L727.7,2069.7 L730.1,2066.2 L732.5,2062.7 L734.9,2059.2 L737.4,2055.7 L739.9,2052.2 L742.4,2048.7 L745.0,2045.2 L747.6,2041.8 L750.2,2038.3 L752.9,2034.8 L755.6,2031.4 L758.3,2028.0 L761.1,2024.7 L764.0,2021.4 L766.9,2018.1 L769.8,2014.9 L772.8,2011.8 L775.8,2008.8 L779.0,2005.8 L782.1,2003.0 L785.4,2000.2 L788.7,1997.6 L792.0,1995.1 L795.5,1992.7 L799.0,1990.4 L802.6,1988.3 L806.2,1986.3 L810.0,1984.5 L813.8,1982.8 L817.7,1981.4 L821.7,1980.1 L825.8,1979.0 L830.0,1978.0 L834.2,1977.3 L838.5,1976.7 L842.8,1976.3 L847.2,1976.0 L851.6,1975.9 L856.0,1976.0 L860.3,1976.1 L864.7,1976.4 L869.1,1976.8 L873.4,1977.3 L877.7,1977.9 L881.9,1978.6 L886.2,1979.3 L890.4,1980.1 L894.6,1980.9 L898.8,1981.7 L902.9,1982.6 L907.1,1983.5 L911.2,1984.5 L915.4,1985.5 L919.5,1986.6 L923.5,1987.7 L927.6,1988.9 L931.7,1990.0 L935.7,1991.3 L939.8,1992.6 L943.8,1993.9 L947.8,1995.3 L951.8,1996.7 L955.8,1998.1 L959.8,1999.6 L963.8,2001.0 L967.8,2002.5 L971.8,2004.1 L975.7,2005.6 L979.7,2007.1 L983.7,2008.7 L987.7,2010.3 L991.7,2011.8 L995.8,2013.4 L999.8,2014.9 L1003.8,2016.5 L1007.9,2018.0 L1011.9,2019.5 L1016.0,2021.0 L1020.1,2022.4 L1024.2,2023.7 L1028.3,2025.0 L1032.4,2026.2 L1036.6,2027.2 L1040.7,2028.2 L1044.9,2029.1 L1049.0,2029.8 L1053.2,2030.4 L1057.4,2030.9 L1061.6,2031.2 L1065.8,2031.3 L1070.1,2031.2 L1074.3,2031.0 L1078.6,2030.6 L1082.8,2030.0 L1087.0,2029.3 L1091.2,2028.4 L1095.4,2027.4 L1099.6,2026.2 L1103.7,2025.0 L1107.9,2023.6 L1111.9,2022.1 L1115.9,2020.5 L1119.9,2018.8 L1123.8,2017.0 L1127.7,2015.1 L1131.5,2013.1 L1135.3,2011.1 L1139.0,2008.9 L1142.7,2006.7 L1146.3,2004.4 L1149.9,2002.0 L1153.4,1999.5 L1156.9,1997.0 L1160.3,1994.4 L1163.6,1991.7 L1166.9,1989.0 L1170.2,1986.2 L1173.4,1983.3 L1176.5,1980.4 L1179.6,1977.4 L1182.6,1974.4 L1185.6,1971.3 L1188.5,1968.2 L1191.3,1965.0 L1194.1,1961.8 L1196.8,1958.5 L1199.5,1955.2 L1202.2,1951.9 L1204.8,1948.6 L1207.4,1945.3 L1210.0,1941.9 L1212.6,1938.6 L1215.2,1935.2 L1217.9,1931.8 L1220.5,1928.5 L1223.3,1925.2 L1226.0,1921.9 L1228.8,1918.6 L1231.7,1915.4 L1234.6,1912.2 L1237.6,1909.0 L1240.7,1905.9 L1243.8,1902.9 L1247.0,1899.9 L1250.2,1897.0 L1253.5,1894.2 L1256.9,1891.5 L1260.3,1888.9 L1263.8,1886.4 L1267.3,1884.0 L1270.9,1881.7 L1274.6,1879.5 L1278.3,1877.5 L1282.0,1875.7 L1285.9,1873.9 L1289.8,1872.4 L1293.7,1871.0 L1297.7,1869.7 L1301.8,1868.7 L1305.9,1867.8 L1310.1,1867.1 L1314.3,1866.6 L1318.5,1866.2 L1322.8,1865.9 L1327.1,1865.7 L1331.5,1865.6 L1335.8,1865.5 L1340.1,1865.4 L1344.4,1865.3 L1348.7,1865.2 L1353.0,1865.0 L1357.3,1864.9 L1361.6,1864.7 L1365.9,1864.5 L1370.2,1864.3 L1374.5,1864.1 L1378.8,1863.9 L1383.0,1863.6 L1387.3,1863.4 L1391.6,1863.1 L1395.8,1862.8 L1400.1,1862.4 L1404.4,1862.1 L1408.6,1861.7 L1412.9,1861.3 L1417.1,1860.9 L1421.3,1860.5 L1425.5,1860.0 L1429.7,1859.5 L1434.0,1859.0 L1438.2,1858.5 L1442.3,1857.9 L1446.5,1857.3 L1450.7,1856.7 L1454.9,1856.1 L1459.1,1855.4 L1463.2,1854.7 L1467.4,1853.9 L1471.6,1853.1 L1475.8,1852.3 L1480.0,1851.4 L1484.2,1850.5 L1488.4,1849.5 L1492.6,1848.5 L1496.9,1847.4 L1501.1,1846.3 L1505.4,1845.1 L1509.6,1843.8 L1513.8,1842.5 L1518.0,1841.1 L1522.1,1839.6 L1526.2,1838.1 L1530.3,1836.4 L1534.3,1834.7 L1538.2,1832.9 L1542.1,1831.0 L1545.8,1828.9 L1549.5,1826.8 L1553.1,1824.6 L1556.5,1822.2 L1559.9,1819.7 L1563.1,1817.1 L1566.2,1814.4 L1569.1,1811.6 L1571.9,1808.6 L1574.5,1805.4 L1576.9,1802.2 L1579.2,1798.8 L1581.3,1795.2 L1583.2,1791.5 L1584.9,1787.6 L1586.3,1783.5 L1587.6,1779.3 L1588.6,1774.9 L1589.4,1770.4 L1590.0,1765.6 L1590.3,1760.7" fill="none" stroke="#3a52ea" stroke-width="3.8"/>
<g fill="#3a52fd" stroke="#fff" stroke-width="3.5"><circle cx="746.6" cy="2043.5" r="8.5"/><circle cx="886" cy="1980.2" r="8.5"/><circle cx="1028.9" cy="2025.9" r="8.5"/><circle cx="1150.4" cy="2001" r="8.5"/><circle cx="1227.3" cy="1920.5" r="8.5"/><circle cx="1434.2" cy="1859.2" r="8.5"/><circle cx="1554.8" cy="1823.8" r="8.5"/></g>
<circle cx="1337.5" cy="1876" r="26" fill="#3a52fd" opacity="0.35" filter="url(#dsh)"/>
<circle cx="1337.5" cy="1866.8" r="25.5" fill="#fff" stroke="#3a52fd" stroke-width="3.5"/>
<circle cx="1337.5" cy="1866.8" r="8" fill="none" stroke="#3a52fd" stroke-width="5.5"/>
</svg>
<div class="a" style="left:1184.7px;top:1691.8px;width:302px;height:121px;background:#fff;border:2px solid #e3e4ec;border-radius:4px;box-sizing:border-box;box-shadow:0 6px 16px rgba(140,145,180,0.12)"></div>
<svg width="3475" height="2606" viewBox="0 0 3475 2606"><path d="M1321,1811.5 L1335.5,1827 L1350,1811.5" fill="#fff" stroke="#e3e4ec" stroke-width="2"/><rect x="1318" y="1806" width="35" height="5.5" fill="#fff"/></svg>
<div class="a" style="left:1776px;top:1256px;width:1166px;height:1338px;background:#fff;border:2px solid #e6e8f0;border-radius:10px;box-sizing:border-box;overflow:hidden"><div class="a" style="left:0;top:200px;width:100%;height:2px;background:#eceef3"></div></div>
<svg width="3475" height="2606" viewBox="0 0 3475 2606"><g fill="#b9bcc9"><circle cx="2831.4" cy="1341" r="4.6"/><circle cx="2831.4" cy="1357.5" r="4.6"/><circle cx="2831.4" cy="1373" r="4.6"/></g></svg>
<svg width="3475" height="2606" viewBox="0 0 3475 2606">
<defs>
<filter id="glow" filterUnits="userSpaceOnUse" x="1700" y="1400" width="1300" height="1250"><feGaussianBlur stdDeviation="26"/></filter>
<filter id="ash" filterUnits="userSpaceOnUse" x="1700" y="1400" width="1300" height="1250"><feGaussianBlur stdDeviation="22"/></filter>
<filter id="insh" filterUnits="userSpaceOnUse" x="1600" y="1300" width="1500" height="1450"><feGaussianBlur stdDeviation="34"/></filter>
<clipPath id="inclip"><circle cx="2365" cy="2027" r="273"/></clipPath>
<clipPath id="nbclip"><path d="M2360.4,1785.0 L2352.2,1596.1 L2358.8,1595.7 L2365.5,1595.8 L2372.1,1595.9 L2378.7,1596.2 L2385.3,1596.6 L2392.0,1597.0 L2398.6,1597.6 L2405.2,1598.2 L2411.8,1598.9 L2418.3,1599.8 L2424.9,1600.7 L2431.5,1601.7 L2438.0,1602.8 L2444.5,1604.1 L2451.0,1605.4 L2457.5,1606.8 L2464.0,1608.3 L2470.4,1609.8 L2476.8,1611.5 L2483.2,1613.3 L2489.6,1615.2 L2495.9,1617.1 L2502.2,1619.2 L2508.5,1621.3 L2514.8,1623.5 L2521.0,1625.9 L2527.2,1628.3 L2533.3,1630.8 L2539.4,1633.3 L2545.5,1636.0 L2551.5,1638.8 L2557.5,1641.6 L2563.5,1644.6 L2569.4,1647.6 L2575.2,1650.7 L2581.0,1653.9 L2586.8,1657.2 L2592.5,1660.5 L2598.2,1664.0 L2603.8,1667.5 L2609.4,1671.1 L2614.9,1674.8 L2620.4,1678.5 L2625.8,1682.4 L2631.2,1686.3 L2636.4,1690.3 L2641.7,1694.3 L2646.9,1698.5 L2652.0,1702.7 L2657.0,1707.0 L2662.0,1711.4 L2667.0,1715.8 L2671.8,1720.3 L2676.6,1724.9 L2681.4,1729.5 L2686.0,1734.2 L2690.6,1739.0 L2695.2,1743.9 L2699.6,1748.8 L2704.0,1753.8 L2708.3,1758.8 L2712.6,1763.9 L2716.7,1769.1 L2720.8,1774.3 L2724.8,1779.6 L2728.8,1784.9 L2732.6,1790.3 L2736.4,1795.7 L2740.1,1801.2 L2743.8,1806.8 L2747.3,1812.4 L2750.8,1818.1 L2754.1,1823.8 L2757.4,1829.5 L2760.7,1835.3 L2763.8,1841.2 L2766.8,1847.1 L2769.8,1853.0 L2772.7,1859.0 L2775.5,1865.0 L2778.2,1871.1 L2780.8,1877.2 L2783.3,1883.3 L2785.7,1889.5 L2788.1,1895.7 L2790.3,1901.9 L2792.5,1908.2 L2794.6,1914.5 L2796.6,1920.8 L2799.0,1927.0 L2585.5,1983.5 L2365,2027 Z"/><path d="M2309.7,2250.3 L2291.7,2445.0 L2288.3,2443.5 L2284.8,2443.2 L2281.4,2442.9 L2277.9,2442.5 L2274.5,2442.1 L2271.1,2441.7 L2267.6,2441.2 L2264.2,2440.7 L2260.8,2440.2 L2257.3,2439.6 L2253.9,2439.0 L2250.5,2438.4 L2247.1,2437.7 L2243.7,2437.0 L2240.3,2436.3 L2237.0,2435.5 L2233.6,2434.7 L2230.2,2433.9 L2226.9,2433.0 L2223.5,2432.1 L2220.2,2431.2 L2216.8,2430.2 L2213.5,2429.2 L2210.2,2428.2 L2206.9,2427.2 L2203.6,2426.1 L2200.3,2425.0 L2197.1,2423.8 L2193.8,2422.6 L2190.6,2421.4 L2187.3,2420.2 L2184.1,2418.9 L2180.9,2417.6 L2177.7,2416.2 L2174.5,2414.9 L2171.3,2413.5 L2168.2,2412.0 L2165.0,2410.6 L2161.9,2409.1 L2158.8,2407.5 L2155.7,2406.0 L2152.6,2404.4 L2149.5,2402.8 L2146.5,2401.1 L2143.5,2399.5 L2140.4,2397.8 L2137.4,2396.0 L2134.4,2394.3 L2131.5,2392.5 L2128.5,2390.7 L2125.6,2388.8 L2122.7,2387.0 L2119.8,2385.0 L2116.9,2383.1 L2114.0,2381.2 L2111.2,2379.2 L2108.4,2377.2 L2105.6,2375.1 L2102.8,2373.0 L2100.0,2371.0 L2097.3,2368.8 L2094.6,2366.7 L2091.9,2364.5 L2089.2,2362.3 L2086.5,2360.1 L2083.9,2357.8 L2081.3,2355.5 L2078.7,2353.2 L2076.1,2350.9 L2073.6,2348.6 L2071.1,2346.2 L2068.6,2343.8 L2066.1,2341.4 L2063.6,2338.9 L2061.2,2336.4 L2058.8,2333.9 L2056.4,2331.4 L2054.1,2328.9 L2051.7,2326.3 L2049.4,2323.7 L2047.1,2321.1 L2044.9,2318.5 L2042.7,2315.8 L2040.5,2313.1 L2038.3,2310.4 L2036.1,2307.7 L2034.0,2305.0 L2031.9,2302.2 L2029.8,2299.5 L2025.4,2298.3 L2187.9,2174.6 L2365,2027 Z"/></clipPath>
</defs>

<ellipse cx="2080" cy="2350" rx="110" ry="45" transform="rotate(38 2080 2350)" fill="#aeb3e2" opacity="0.45" filter="url(#glow)"/>
<path d="M2309.7,2250.3 L2291.7,2445.0 L2288.3,2443.5 L2284.8,2443.2 L2281.4,2442.9 L2277.9,2442.5 L2274.5,2442.1 L2271.1,2441.7 L2267.6,2441.2 L2264.2,2440.7 L2260.8,2440.2 L2257.3,2439.6 L2253.9,2439.0 L2250.5,2438.4 L2247.1,2437.7 L2243.7,2437.0 L2240.3,2436.3 L2237.0,2435.5 L2233.6,2434.7 L2230.2,2433.9 L2226.9,2433.0 L2223.5,2432.1 L2220.2,2431.2 L2216.8,2430.2 L2213.5,2429.2 L2210.2,2428.2 L2206.9,2427.2 L2203.6,2426.1 L2200.3,2425.0 L2197.1,2423.8 L2193.8,2422.6 L2190.6,2421.4 L2187.3,2420.2 L2184.1,2418.9 L2180.9,2417.6 L2177.7,2416.2 L2174.5,2414.9 L2171.3,2413.5 L2168.2,2412.0 L2165.0,2410.6 L2161.9,2409.1 L2158.8,2407.5 L2155.7,2406.0 L2152.6,2404.4 L2149.5,2402.8 L2146.5,2401.1 L2143.5,2399.5 L2140.4,2397.8 L2137.4,2396.0 L2134.4,2394.3 L2131.5,2392.5 L2128.5,2390.7 L2125.6,2388.8 L2122.7,2387.0 L2119.8,2385.0 L2116.9,2383.1 L2114.0,2381.2 L2111.2,2379.2 L2108.4,2377.2 L2105.6,2375.1 L2102.8,2373.0 L2100.0,2371.0 L2097.3,2368.8 L2094.6,2366.7 L2091.9,2364.5 L2089.2,2362.3 L2086.5,2360.1 L2083.9,2357.8 L2081.3,2355.5 L2078.7,2353.2 L2076.1,2350.9 L2073.6,2348.6 L2071.1,2346.2 L2068.6,2343.8 L2066.1,2341.4 L2063.6,2338.9 L2061.2,2336.4 L2058.8,2333.9 L2056.4,2331.4 L2054.1,2328.9 L2051.7,2326.3 L2049.4,2323.7 L2047.1,2321.1 L2044.9,2318.5 L2042.7,2315.8 L2040.5,2313.1 L2038.3,2310.4 L2036.1,2307.7 L2034.0,2305.0 L2031.9,2302.2 L2029.8,2299.5 L2025.4,2298.3 L2187.9,2174.6 L2365,2027 Z" fill="#fde38b"/>
<path d="M2507.6,2202.2 L2640.9,2346.9 L2637.2,2349.4 L2633.9,2352.3 L2630.5,2355.2 L2627.1,2358.1 L2623.7,2361.0 L2620.3,2363.8 L2616.8,2366.5 L2613.3,2369.3 L2609.8,2372.0 L2606.2,2374.7 L2602.6,2377.3 L2599.0,2379.9 L2595.4,2382.5 L2591.7,2385.0 L2588.1,2387.5 L2584.4,2390.0 L2580.6,2392.4 L2576.9,2394.8 L2573.1,2397.2 L2569.3,2399.5 L2565.5,2401.8 L2561.7,2404.0 L2557.8,2406.2 L2554.0,2408.4 L2550.1,2410.6 L2546.1,2412.7 L2542.2,2414.7 L2538.2,2416.7 L2534.3,2418.7 L2530.3,2420.7 L2526.2,2422.6 L2522.2,2424.5 L2518.2,2426.3 L2514.1,2428.1 L2510.0,2429.8 L2505.9,2431.5 L2501.8,2433.2 L2497.7,2434.9 L2493.5,2436.4 L2489.3,2438.0 L2485.2,2439.5 L2481.0,2441.0 L2476.8,2442.4 L2472.5,2443.8 L2468.3,2445.2 L2464.1,2446.5 L2459.8,2447.8 L2455.5,2449.0 L2451.2,2450.2 L2446.9,2451.3 L2442.6,2452.4 L2438.3,2453.5 L2434.0,2454.5 L2429.7,2455.5 L2425.3,2456.5 L2421.0,2457.4 L2416.6,2458.2 L2412.2,2459.0 L2407.8,2459.8 L2403.5,2460.5 L2399.1,2461.2 L2394.7,2461.9 L2390.3,2462.5 L2385.9,2463.0 L2381.4,2463.6 L2377.0,2464.0 L2372.6,2464.5 L2368.2,2464.9 L2363.7,2465.2 L2359.3,2465.5 L2354.9,2465.8 L2350.4,2466.0 L2346.0,2466.2 L2341.5,2466.3 L2337.1,2466.4 L2332.6,2466.5 L2328.2,2466.5 L2323.8,2466.5 L2319.3,2466.4 L2314.9,2466.3 L2310.4,2466.1 L2306.0,2465.9 L2301.5,2465.7 L2297.1,2465.4 L2292.7,2465.0 L2288.2,2464.7 L2283.8,2464.3 L2279.4,2463.8 L2275.0,2463.3 L2270.5,2463.2 L2300.0,2247.7 L2365,2027 Z" fill="#a1fd86"/>
<path d="M2583.4,1974.0 L2775.0,1914.0 L2777.6,1919.1 L2779.0,1924.4 L2780.3,1929.8 L2781.5,1935.3 L2782.7,1940.7 L2783.8,1946.1 L2784.9,1951.6 L2785.8,1957.1 L2786.8,1962.6 L2787.6,1968.1 L2788.4,1973.6 L2789.1,1979.1 L2789.7,1984.6 L2790.3,1990.1 L2790.8,1995.7 L2791.2,2001.2 L2791.6,2006.8 L2791.9,2012.3 L2792.1,2017.9 L2792.3,2023.4 L2792.4,2029.0 L2792.4,2034.6 L2792.4,2040.1 L2792.2,2045.7 L2792.1,2051.2 L2791.8,2056.8 L2791.5,2062.3 L2791.1,2067.9 L2790.6,2073.4 L2790.1,2079.0 L2789.5,2084.5 L2788.9,2090.0 L2788.1,2095.5 L2787.3,2101.0 L2786.5,2106.5 L2785.6,2112.0 L2784.6,2117.5 L2783.5,2122.9 L2782.4,2128.4 L2781.2,2133.8 L2779.9,2139.2 L2778.6,2144.6 L2777.2,2150.0 L2775.7,2155.4 L2774.2,2160.7 L2772.6,2166.0 L2770.9,2171.3 L2769.2,2176.6 L2767.4,2181.9 L2765.5,2187.1 L2763.6,2192.4 L2761.6,2197.5 L2759.5,2202.7 L2757.4,2207.9 L2755.3,2213.0 L2753.0,2218.1 L2750.7,2223.1 L2748.3,2228.2 L2745.9,2233.2 L2743.4,2238.1 L2740.9,2243.1 L2738.3,2248.0 L2735.6,2252.9 L2732.9,2257.7 L2730.1,2262.5 L2727.2,2267.3 L2724.3,2272.0 L2721.4,2276.7 L2718.3,2281.4 L2715.2,2286.0 L2712.1,2290.6 L2708.9,2295.2 L2705.7,2299.7 L2702.4,2304.2 L2699.0,2308.6 L2695.6,2313.0 L2692.1,2317.3 L2688.6,2321.6 L2685.0,2325.9 L2681.4,2330.1 L2677.7,2334.3 L2674.0,2338.4 L2670.2,2342.5 L2666.4,2346.5 L2662.5,2350.5 L2658.6,2354.4 L2654.6,2358.3 L2650.6,2362.1 L2646.5,2365.9 L2643.3,2370.7 L2498.8,2209.0 L2365,2027 Z" fill="#05e38b"/>
<path d="M2360.4,1785.0 L2352.2,1596.1 L2358.8,1595.7 L2365.5,1595.8 L2372.1,1595.9 L2378.7,1596.2 L2385.3,1596.6 L2392.0,1597.0 L2398.6,1597.6 L2405.2,1598.2 L2411.8,1598.9 L2418.3,1599.8 L2424.9,1600.7 L2431.5,1601.7 L2438.0,1602.8 L2444.5,1604.1 L2451.0,1605.4 L2457.5,1606.8 L2464.0,1608.3 L2470.4,1609.8 L2476.8,1611.5 L2483.2,1613.3 L2489.6,1615.2 L2495.9,1617.1 L2502.2,1619.2 L2508.5,1621.3 L2514.8,1623.5 L2521.0,1625.9 L2527.2,1628.3 L2533.3,1630.8 L2539.4,1633.3 L2545.5,1636.0 L2551.5,1638.8 L2557.5,1641.6 L2563.5,1644.6 L2569.4,1647.6 L2575.2,1650.7 L2581.0,1653.9 L2586.8,1657.2 L2592.5,1660.5 L2598.2,1664.0 L2603.8,1667.5 L2609.4,1671.1 L2614.9,1674.8 L2620.4,1678.5 L2625.8,1682.4 L2631.2,1686.3 L2636.4,1690.3 L2641.7,1694.3 L2646.9,1698.5 L2652.0,1702.7 L2657.0,1707.0 L2662.0,1711.4 L2667.0,1715.8 L2671.8,1720.3 L2676.6,1724.9 L2681.4,1729.5 L2686.0,1734.2 L2690.6,1739.0 L2695.2,1743.9 L2699.6,1748.8 L2704.0,1753.8 L2708.3,1758.8 L2712.6,1763.9 L2716.7,1769.1 L2720.8,1774.3 L2724.8,1779.6 L2728.8,1784.9 L2732.6,1790.3 L2736.4,1795.7 L2740.1,1801.2 L2743.8,1806.8 L2747.3,1812.4 L2750.8,1818.1 L2754.1,1823.8 L2757.4,1829.5 L2760.7,1835.3 L2763.8,1841.2 L2766.8,1847.1 L2769.8,1853.0 L2772.7,1859.0 L2775.5,1865.0 L2778.2,1871.1 L2780.8,1877.2 L2783.3,1883.3 L2785.7,1889.5 L2788.1,1895.7 L2790.3,1901.9 L2792.5,1908.2 L2794.6,1914.5 L2796.6,1920.8 L2799.0,1927.0 L2585.5,1983.5 L2365,2027 Z" fill="#7c8cfd"/>
<g clip-path="url(#nbclip)"><path d="M2194.7,2182.5 L2022.0,2323.8 L2015.3,2314.4 L2008.3,2305.3 L2001.5,2296.1 L1994.9,2286.7 L1988.6,2277.1 L1982.5,2267.3 L1976.6,2257.5 L1971.0,2247.4 L1965.7,2237.3 L1960.6,2227.0 L1955.8,2216.5 L1951.2,2206.0 L1946.9,2195.3 L1942.9,2184.6 L1939.2,2173.7 L1935.7,2162.8 L1932.5,2151.8 L1929.6,2140.6 L1926.9,2129.5 L1924.6,2118.2 L1922.5,2106.9 L1920.7,2095.6 L1919.2,2084.2 L1918.0,2072.8 L1917.1,2061.3 L1916.4,2049.9 L1916.1,2038.4 L1916.0,2026.9 L1916.2,2015.4 L1916.8,2003.9 L1917.6,1992.5 L1918.7,1981.1 L1920.0,1969.7 L1921.7,1958.3 L1923.7,1947.0 L1925.9,1935.7 L1928.4,1924.5 L1931.2,1913.4 L1934.3,1902.3 L1937.7,1891.3 L1941.3,1880.4 L1945.2,1869.6 L1949.4,1858.9 L1953.8,1848.3 L1958.5,1837.9 L1963.5,1827.5 L1968.7,1817.3 L1974.2,1807.2 L1980.0,1797.2 L1986.0,1787.4 L1992.2,1777.8 L1998.7,1768.3 L2005.4,1759.0 L2012.3,1749.8 L2019.5,1740.9 L2026.9,1732.1 L2034.5,1723.5 L2042.3,1715.1 L2050.4,1706.9 L2058.6,1698.9 L2067.0,1691.1 L2075.7,1683.5 L2084.5,1676.2 L2093.5,1669.0 L2102.7,1662.1 L2112.0,1655.5 L2121.5,1649.0 L2131.2,1642.8 L2141.1,1636.9 L2151.0,1631.2 L2161.1,1625.8 L2171.4,1620.6 L2181.8,1615.6 L2192.3,1611.0 L2202.9,1606.6 L2213.6,1602.5 L2224.4,1598.6 L2235.3,1595.0 L2246.3,1591.7 L2257.4,1588.7 L2268.5,1585.9 L2279.8,1583.5 L2291.0,1581.3 L2302.4,1579.4 L2313.7,1577.8 L2325.1,1576.4 L2336.6,1575.4 L2348.0,1574.6 L2359.5,1574.2 L2371.0,1574.0 L2371.0,1785.0 L2365,2027 Z" fill="#20246a" opacity="0.26" transform="translate(14,14)" filter="url(#ash)"/></g>
<path d="M2194.7,2182.5 L2022.0,2323.8 L2015.3,2314.4 L2008.3,2305.3 L2001.5,2296.1 L1994.9,2286.7 L1988.6,2277.1 L1982.5,2267.3 L1976.6,2257.5 L1971.0,2247.4 L1965.7,2237.3 L1960.6,2227.0 L1955.8,2216.5 L1951.2,2206.0 L1946.9,2195.3 L1942.9,2184.6 L1939.2,2173.7 L1935.7,2162.8 L1932.5,2151.8 L1929.6,2140.6 L1926.9,2129.5 L1924.6,2118.2 L1922.5,2106.9 L1920.7,2095.6 L1919.2,2084.2 L1918.0,2072.8 L1917.1,2061.3 L1916.4,2049.9 L1916.1,2038.4 L1916.0,2026.9 L1916.2,2015.4 L1916.8,2003.9 L1917.6,1992.5 L1918.7,1981.1 L1920.0,1969.7 L1921.7,1958.3 L1923.7,1947.0 L1925.9,1935.7 L1928.4,1924.5 L1931.2,1913.4 L1934.3,1902.3 L1937.7,1891.3 L1941.3,1880.4 L1945.2,1869.6 L1949.4,1858.9 L1953.8,1848.3 L1958.5,1837.9 L1963.5,1827.5 L1968.7,1817.3 L1974.2,1807.2 L1980.0,1797.2 L1986.0,1787.4 L1992.2,1777.8 L1998.7,1768.3 L2005.4,1759.0 L2012.3,1749.8 L2019.5,1740.9 L2026.9,1732.1 L2034.5,1723.5 L2042.3,1715.1 L2050.4,1706.9 L2058.6,1698.9 L2067.0,1691.1 L2075.7,1683.5 L2084.5,1676.2 L2093.5,1669.0 L2102.7,1662.1 L2112.0,1655.5 L2121.5,1649.0 L2131.2,1642.8 L2141.1,1636.9 L2151.0,1631.2 L2161.1,1625.8 L2171.4,1620.6 L2181.8,1615.6 L2192.3,1611.0 L2202.9,1606.6 L2213.6,1602.5 L2224.4,1598.6 L2235.3,1595.0 L2246.3,1591.7 L2257.4,1588.7 L2268.5,1585.9 L2279.8,1583.5 L2291.0,1581.3 L2302.4,1579.4 L2313.7,1577.8 L2325.1,1576.4 L2336.6,1575.4 L2348.0,1574.6 L2359.5,1574.2 L2371.0,1574.0 L2371.0,1785.0 L2365,2027 Z" fill="#3a52fd"/>
<circle cx="2365" cy="2027" r="272" fill="#fff"/>
<g clip-path="url(#inclip)"><path d="M1665,1327 h1400 v1400 h-1400 Z M2450,2015 m-287,0 a287,287 0 1,0 574,0 a287,287 0 1,0 -574,0 Z" fill="#a3a8dd" fill-rule="evenodd" opacity="0.5" filter="url(#insh)"/></g>
</svg>
<svg width="3475" height="2606" viewBox="0 0 3475 2606">
<ellipse cx="3209.6" cy="-50.6" rx="414.9" ry="216.2" transform="rotate(-6.26 3209.6 -50.6)" fill="#05e48a"/>
<ellipse cx="3779.1" cy="1177.1" rx="558.1" ry="447.4" transform="rotate(80.79 3779.1 1177.1)" fill="#8064fd"/>
<ellipse cx="3352.8" cy="2561.2" rx="390.7" ry="251.8" transform="rotate(-53.47 3352.8 2561.2)" fill="#80f263"/>
</svg>
<div class="t" style="left:246.8px;top:203.1px;font-size:54.7px;line-height:54.7px;font-weight:400;color:#3a52fd;letter-spacing:-0.45px;-webkit-text-stroke:1.3px #3a52fd">Fucksense</div>
<div class="t" style="left:717.0px;top:213.4px;font-size:39.68px;line-height:39.68px;font-weight:400;color:#8a8c9e;letter-spacing:-1.00px;">Dashboard</div>
<div class="t" style="left:1105.0px;top:211.6px;font-size:38.26px;line-height:38.26px;font-weight:400;color:#3a52fd;letter-spacing:0.76px;-webkit-text-stroke:1.1px #3a52fd">Analytics</div>
<div class="t" style="left:1463.0px;top:213.4px;font-size:39.68px;line-height:39.68px;font-weight:400;color:#8a8c9e;letter-spacing:-1.72px;">Sites</div>
<div class="t" style="left:1750.0px;top:211.4px;font-size:39.68px;line-height:39.68px;font-weight:400;color:#8a8c9e;letter-spacing:-0.93px;">Settings</div>
<div class="t" style="left:2140.0px;top:216.2px;font-size:34.01px;line-height:34.01px;font-weight:400;color:#fff;letter-spacing:-0.71px;-webkit-text-stroke:1.2px #fff">ADD A WEBSITE TO MONITOR</div>
<div class="t" style="left:2978.0px;top:213.6px;font-size:38.26px;line-height:38.26px;font-weight:400;color:#12152b;letter-spacing:-0.79px;">John Smith</div>
<div class="t" style="left:2618.0px;top:460.2px;font-size:34.01px;line-height:34.01px;font-weight:400;color:#8e91a4;letter-spacing:-0.51px;-webkit-text-stroke:0.4px #8e91a4">LAST 30 DAYS</div>
<div class="t" style="left:656.8px;top:833.5px;font-size:68.02px;line-height:68.02px;font-weight:700;color:#1a2133;letter-spacing:0.00px;">10.5k</div>
<div class="t" style="left:634.3px;top:915.3px;font-size:29.76px;line-height:29.76px;font-weight:400;color:#8b8ea1;letter-spacing:-0.50px;">Total emails Sent</div>
<div class="t" style="left:1150.3px;top:833.5px;font-size:68.02px;line-height:68.02px;font-weight:700;color:#1a2133;letter-spacing:0.00px;">50.5k</div>
<div class="t" style="left:1083.6px;top:915.3px;font-size:29.76px;line-height:29.76px;font-weight:400;color:#8b8ea1;letter-spacing:-0.50px;">Total emails Sent Group</div>
<div class="t" style="left:1641.8px;top:833.5px;font-size:68.02px;line-height:68.02px;font-weight:700;color:#1a2133;letter-spacing:0.00px;">10.5k</div>
<div class="t" style="left:1592.7px;top:915.3px;font-size:29.76px;line-height:29.76px;font-weight:400;color:#8b8ea1;letter-spacing:-0.52px;">Average hours of day</div>
<div class="t" style="left:1636.7px;top:953.8px;font-size:29.76px;line-height:29.76px;font-weight:400;color:#8b8ea1;letter-spacing:-0.51px;">email received</div>
<div class="t" style="left:2135.3px;top:833.5px;font-size:68.02px;line-height:68.02px;font-weight:700;color:#1a2133;letter-spacing:0.00px;">25.5k</div>
<div class="t" style="left:2088.2px;top:915.3px;font-size:29.76px;line-height:29.76px;font-weight:400;color:#8b8ea1;letter-spacing:-0.48px;">Total emails received</div>
<div class="t" style="left:2676.1px;top:833.5px;font-size:68.02px;line-height:68.02px;font-weight:700;color:#1a2133;letter-spacing:0.00px;">05</div>
<div class="t" style="left:2597.9px;top:915.3px;font-size:29.76px;line-height:29.76px;font-weight:400;color:#8b8ea1;letter-spacing:-0.53px;">Top email senders</div>
<div class="t" style="left:620.3px;top:1330.9px;font-size:54.42px;line-height:54.42px;font-weight:400;color:#1a2133;letter-spacing:-0.39px;">Total Email Sent This Month</div>
<div class="t" style="left:658.3px;top:1523.7px;font-size:58.81px;line-height:58.81px;font-weight:700;color:#1a2133;letter-spacing:0.00px;">10.5k</div>
<div class="t" style="left:620.7px;top:1597.4px;font-size:30.19px;line-height:30.19px;font-weight:400;color:#8b8ea1;letter-spacing:-0.51px;">Total Emails Sent</div>
<div class="t" style="left:1069.3px;top:1523.7px;font-size:58.81px;line-height:58.81px;font-weight:700;color:#1a2133;letter-spacing:0.00px;">700</div>
<div class="t" style="left:1010.7px;top:1597.4px;font-size:30.19px;line-height:30.19px;font-weight:400;color:#8b8ea1;letter-spacing:-0.55px;">Emails Captured</div>
<div class="t" style="left:1447.8px;top:1523.7px;font-size:58.81px;line-height:58.81px;font-weight:700;color:#1a2133;letter-spacing:0.00px;">500</div>
<div class="t" style="left:1403.7px;top:1597.4px;font-size:30.19px;line-height:30.19px;font-weight:400;color:#8b8ea1;letter-spacing:-0.61px;">Web Captured</div>
<div class="t" style="left:620.4px;top:1745.0px;font-size:31.89px;line-height:31.89px;font-weight:400;color:#8b8ea1;letter-spacing:-1.15px;">0k</div>
<div class="t" style="left:620.4px;top:1862.7px;font-size:31.89px;line-height:31.89px;font-weight:400;color:#8b8ea1;letter-spacing:-1.15px;">2k</div>
<div class="t" style="left:620.5px;top:1973.6px;font-size:31.89px;line-height:31.89px;font-weight:400;color:#8b8ea1;letter-spacing:-1.18px;">4k</div>
<div class="t" style="left:620.4px;top:2084.5px;font-size:31.89px;line-height:31.89px;font-weight:400;color:#8b8ea1;letter-spacing:-1.15px;">6k</div>
<div class="t" style="left:620.4px;top:2195.8px;font-size:31.89px;line-height:31.89px;font-weight:400;color:#8b8ea1;letter-spacing:-1.15px;">8k</div>
<div class="t" style="left:673.0px;top:2325.0px;font-size:32.6px;line-height:32.6px;font-weight:400;color:#8b8ea1;letter-spacing:0.90px;">0:00</div>
<div class="t" style="left:844.0px;top:2325.0px;font-size:32.6px;line-height:32.6px;font-weight:400;color:#8b8ea1;letter-spacing:0.24px;">3:00</div>
<div class="t" style="left:1014.0px;top:2325.0px;font-size:32.6px;line-height:32.6px;font-weight:400;color:#8b8ea1;letter-spacing:0.77px;">6:00</div>
<div class="t" style="left:1184.5px;top:2325.0px;font-size:32.6px;line-height:32.6px;font-weight:400;color:#8b8ea1;letter-spacing:0.64px;">9:00</div>
<div class="t" style="left:1345.0px;top:2325.0px;font-size:32.6px;line-height:32.6px;font-weight:400;color:#8b8ea1;letter-spacing:1.25px;">11:00</div>
<div class="t" style="left:1526.0px;top:2325.0px;font-size:32.6px;line-height:32.6px;font-weight:400;color:#8b8ea1;letter-spacing:0.24px;">2:00</div>
<div class="t" style="left:642.8px;top:2500.7px;font-size:37.56px;line-height:37.56px;font-weight:400;color:#a3a6b6;letter-spacing:-2.36px;">Sat</div>
<div class="t" style="left:849.0px;top:2500.7px;font-size:37.56px;line-height:37.56px;font-weight:400;color:#a3a6b6;letter-spacing:-1.61px;">Sun</div>
<div class="t" style="left:1058.6px;top:2500.7px;font-size:37.56px;line-height:37.56px;font-weight:400;color:#1a2133;letter-spacing:3.12px;">Mon</div>
<div class="t" style="left:1262.0px;top:2500.7px;font-size:37.56px;line-height:37.56px;font-weight:400;color:#a3a6b6;letter-spacing:-2.57px;">Tues</div>
<div class="t" style="left:1468.5px;top:2500.7px;font-size:37.56px;line-height:37.56px;font-weight:400;color:#a3a6b6;letter-spacing:-0.07px;">Wed</div>
<div class="t" style="left:1225.0px;top:1715.3px;font-size:29.76px;line-height:29.76px;font-weight:400;color:#9a9caf;letter-spacing:-1.40px;">Thus 13 Dec 2018</div>
<div class="t" style="left:1264.0px;top:1756.3px;font-size:28.91px;line-height:28.91px;font-weight:400;color:#474a5b;letter-spacing:-0.24px;-webkit-text-stroke:0.7px #474a5b">1000 Email</div>
<div class="t" style="left:1880.2px;top:1326.5px;font-size:52.58px;line-height:52.58px;font-weight:400;color:#1a2133;letter-spacing:-0.22px;">Top Five Email Senders</div>
<div class="t" style="left:2263.5px;top:1958.9px;font-size:75.68px;line-height:75.68px;font-weight:700;color:#1a2133;letter-spacing:1.23px;">25.5k</div>
<div class="t" style="left:2199.8px;top:2057.4px;font-size:36.14px;line-height:36.14px;font-weight:400;color:#8b8ea1;letter-spacing:-0.58px;">Total Emails Senders</div>
<div class="t" style="left:2408.4px;top:1641.8px;font-size:33.3px;line-height:33.3px;font-weight:400;color:#2a3bc8;letter-spacing:-0.45px;-webkit-text-stroke:0.9px #2a3bc8">Google</div>
<div class="t" style="left:2426.4px;top:1683.8px;font-size:33.3px;line-height:33.3px;font-weight:400;color:#2a3bc8;letter-spacing:1.23px;-webkit-text-stroke:0.9px #2a3bc8">25%</div>
<div class="t" style="left:1981.4px;top:1899.8px;font-size:33.3px;line-height:33.3px;font-weight:400;color:#ffffff;letter-spacing:0.46px;-webkit-text-stroke:0.9px #ffffff">Adobe</div>
<div class="t" style="left:1995.2px;top:1941.8px;font-size:33.3px;line-height:33.3px;font-weight:400;color:#ffffff;letter-spacing:1.53px;-webkit-text-stroke:0.9px #ffffff">35%</div>
<div class="t" style="left:2656.0px;top:1995.8px;font-size:33.3px;line-height:33.3px;font-weight:400;color:#0b7a47;letter-spacing:1.01px;-webkit-text-stroke:0.9px #0b7a47">Twitter</div>
<div class="t" style="left:2672.8px;top:2037.8px;font-size:33.3px;line-height:33.3px;font-weight:400;color:#0b7a47;letter-spacing:1.18px;-webkit-text-stroke:0.9px #0b7a47">17%</div>
<div class="t" style="left:2146.1px;top:2274.8px;font-size:33.3px;line-height:33.3px;font-weight:400;color:#a78a1b;letter-spacing:0.04px;-webkit-text-stroke:0.9px #a78a1b">Pan</div>
<div class="t" style="left:2140.8px;top:2316.8px;font-size:33.3px;line-height:33.3px;font-weight:400;color:#a78a1b;letter-spacing:1.18px;-webkit-text-stroke:0.9px #a78a1b">10%</div>
<div class="t" style="left:2326.1px;top:2337.8px;font-size:33.3px;line-height:33.3px;font-weight:400;color:#2d9e14;letter-spacing:0.90px;-webkit-text-stroke:0.9px #2d9e14">Dribbble</div>
<div class="t" style="left:2356.2px;top:2379.8px;font-size:33.3px;line-height:33.3px;font-weight:400;color:#2d9e14;letter-spacing:1.78px;-webkit-text-stroke:0.9px #2d9e14">13%</div>
</body></html>
